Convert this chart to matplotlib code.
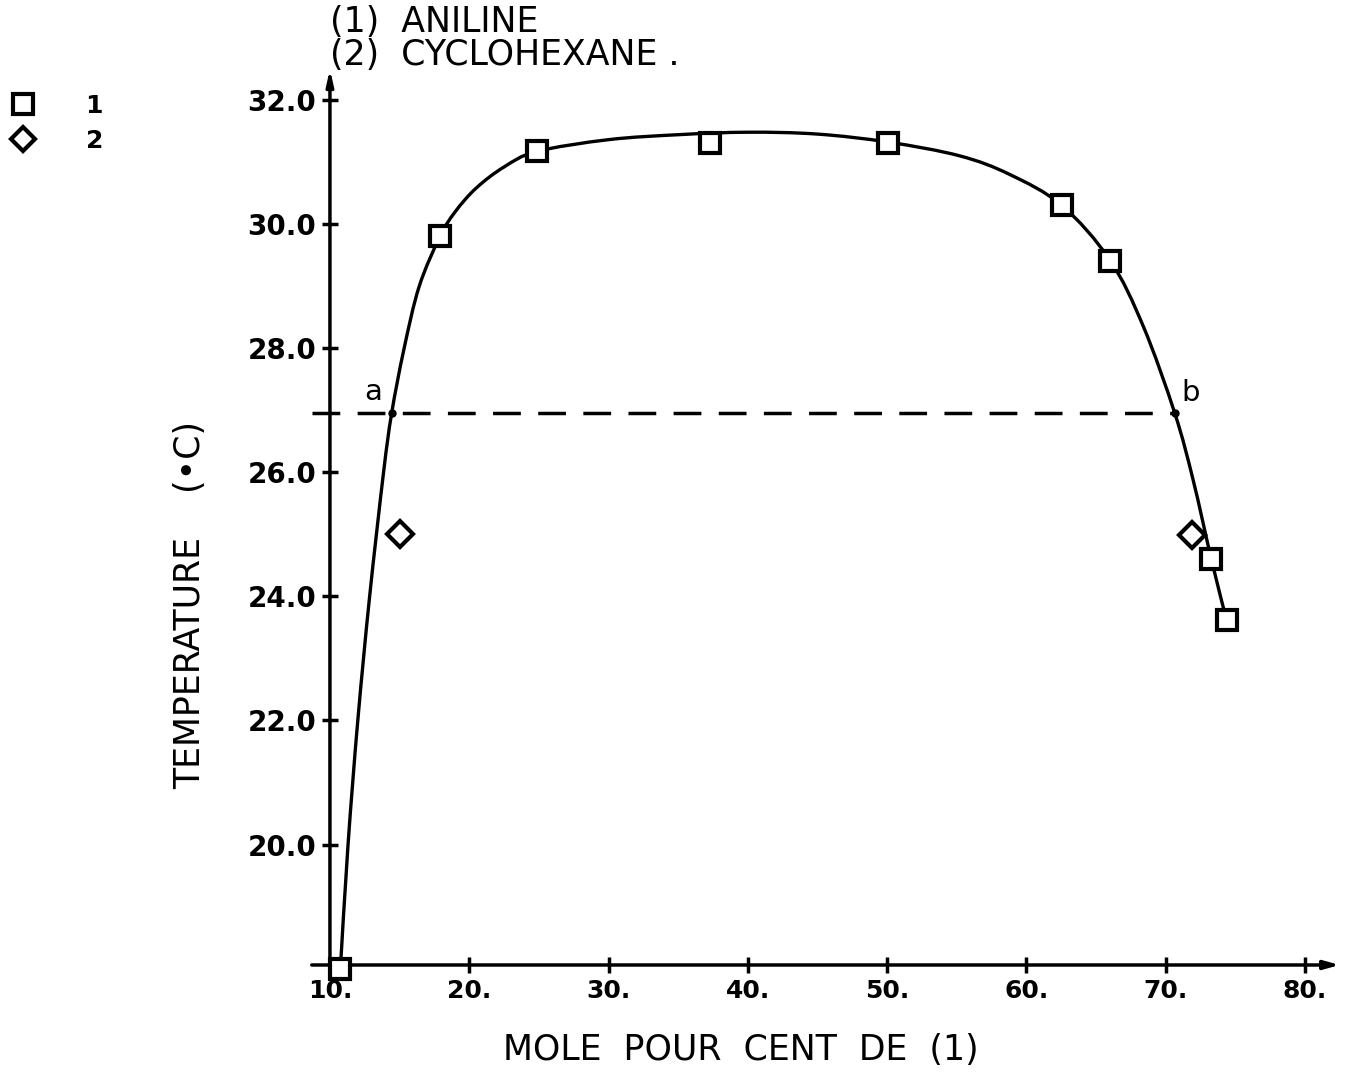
import numpy as np
import matplotlib
matplotlib.use('Agg')
import matplotlib.pyplot as plt
from matplotlib.path import Path
from matplotlib.patches import PathPatch

# measured points (mole % aniline, temperature in C)
x_aniline = [10.75, 17.9, 24.84, 37.3, 50.1, 62.55, 66.0, 73.29, 74.37]
t_aniline = [18.0, 29.8, 31.17, 31.31, 31.31, 30.3, 29.4, 24.6, 23.62]
x_cyclo = [15.0, 71.86]
t_cyclo = [25.0, 24.99]

# coexistence curve as traced by hand
x_curve = [10.75, 11.3, 12.0, 12.85, 13.85, 14.43, 15.3, 16.4, 17.9, 19.0,
           20.5, 22.5, 24.84, 30.0, 35.0, 40.0, 45.0, 50.1, 55.2, 58.8,
           62.55, 66.0, 68.4, 70.66, 71.97, 73.29, 74.37]
t_curve = [18.0, 20.0, 22.0, 24.0, 26.0, 26.95, 27.97, 28.99, 29.8, 30.2,
           30.58, 30.92, 31.17, 31.36, 31.44, 31.48, 31.45, 31.32, 31.1, 30.8,
           30.3, 29.42, 28.35, 26.95, 25.88, 24.59, 23.62]

# tie line a-b
t_tie = 26.95
x_a, x_b = 14.43, 70.66

y_ticks = [20, 22, 24, 26, 28, 30, 32]
x_ticks = [10, 20, 30, 40, 50, 60, 70, 80]


def smooth_path(xs, ys):
    """catmull-rom through the traced points, drawn as bezier segments"""
    p = np.column_stack([xs, ys])
    n = len(p)
    verts = [p[0]]
    codes = [Path.MOVETO]
    for i in range(n - 1):
        p0 = p[i - 1] if i > 0 else p[i]
        p1, p2 = p[i], p[i + 1]
        p3 = p[i + 2] if i + 2 < n else p[i + 1]
        verts += [p1 + (p2 - p0) / 6., p2 - (p3 - p1) / 6., p2]
        codes += [Path.CURVE4] * 3
    return Path(verts, codes)


plt.rcParams['font.family'] = 'DejaVu Sans'
fig = plt.figure(figsize=(13.5, 10.77), dpi=100)
ax = fig.add_axes([0.2444, 0.104, 0.748, 0.832])
ax.set_xlim(10, 82.5)
ax.set_ylim(18.06, 32.5)
for s in ax.spines.values():
    s.set_visible(False)

# axes drawn as arrows
ax.annotate('', xy=(0, 1.0), xytext=(0, 0), xycoords='axes fraction',
            arrowprops=dict(arrowstyle='-|>,head_length=0.9,head_width=0.2',
                            lw=2.5, color='black', shrinkA=0, shrinkB=0))
ax.annotate('', xy=(1.0, 0), xytext=(-0.018, 0), xycoords='axes fraction',
            arrowprops=dict(arrowstyle='-|>,head_length=0.9,head_width=0.25',
                            lw=2.5, color='black', shrinkA=0, shrinkB=0))

ax.set_yticks(y_ticks)
ax.set_yticklabels(['%.1f' % v for v in y_ticks])
ax.set_xticks(x_ticks)
ax.set_xticklabels(['%d.' % v for v in x_ticks])
ax.tick_params(direction='inout', length=12, width=2.5, pad=4)
ax.tick_params(axis='y', labelsize=20)
ax.tick_params(axis='x', labelsize=18)
for lab in ax.get_xticklabels() + ax.get_yticklabels():
    lab.set_fontweight('bold')

# curve and tie line
ax.add_patch(PathPatch(smooth_path(x_curve, t_curve), fill=False, lw=2.4,
                       color='black', zorder=3))
ax.plot([8.7, x_b], [t_tie, t_tie], color='black', lw=2.5,
        linestyle=(0, (8, 5)), clip_on=False, zorder=2)
ax.plot([x_a, x_b], [t_tie, t_tie], 'o', color='black', ms=5, zorder=4)
ax.text(x_a - 1.3, t_tie + 0.12, 'a', fontsize=21, ha='center', va='bottom')
ax.text(x_b + 1.1, t_tie + 0.1, 'b', fontsize=21, ha='center', va='bottom')

sq, = ax.plot(x_aniline, t_aniline, 's', ms=15, mfc='white', mec='black',
              mew=3, clip_on=False, zorder=5, label='1')
dm, = ax.plot(x_cyclo, t_cyclo, 'D', ms=13, mfc='white', mec='black',
              mew=3, clip_on=False, zorder=5, label='2')

fig.legend(handles=[sq, dm], loc='upper left', bbox_to_anchor=(0.0078, 0.913),
           frameon=False, handlelength=1.0, handletextpad=2.0,
           labelspacing=0.45, borderpad=0, borderaxespad=0, markerscale=0.95,
           prop={'weight': 'bold', 'size': 18})

fig.text(190 / 1350, 1 - 605 / 1077, 'TEMPERATURE    (•C)', fontsize=25,
         rotation=90, ha='center', va='center')
fig.text(741 / 1350, 1 - 1050 / 1077, 'MOLE  POUR  CENT  DE  (1)', fontsize=25,
         ha='center', va='center')
fig.text(330 / 1350, 1 - 22 / 1077, '(1)  ANILINE', fontsize=25, ha='left',
         va='center')
fig.text(330 / 1350, 1 - 55 / 1077, '(2)  CYCLOHEXANE .', fontsize=25,
         ha='left', va='center')

fig.savefig('out.png', dpi=100, facecolor='white')
